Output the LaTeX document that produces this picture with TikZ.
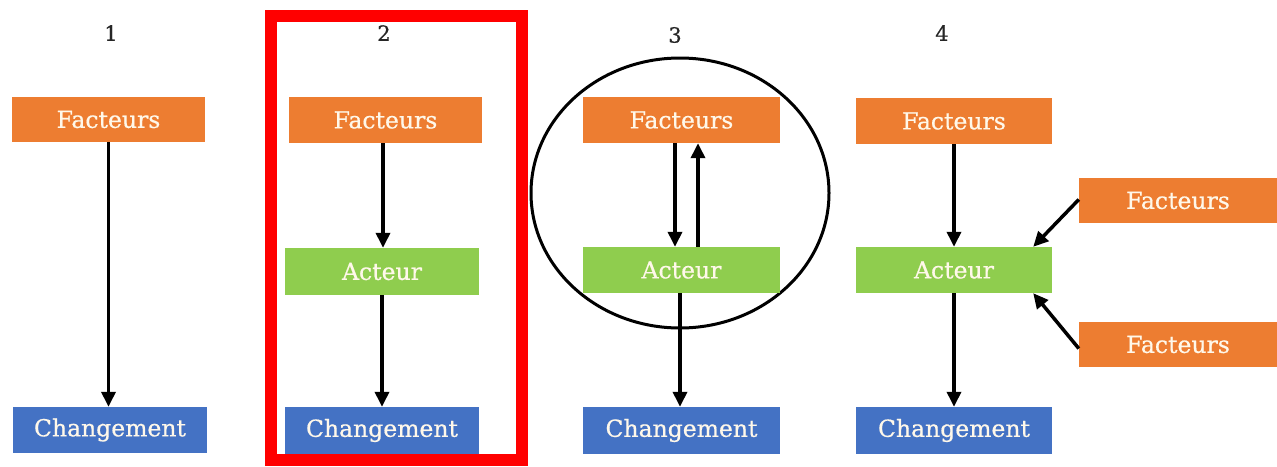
\documentclass[tikz,border=0pt]{standalone}
\usepackage{fontspec}
\setmainfont{DejaVu Serif}
\newfontfamily\boxfont[FakeBold=0.6]{DejaVu Serif}
\usetikzlibrary{arrows.meta}
\definecolor{fOrange}{HTML}{ED7D31}
\definecolor{fGreen}{HTML}{8FCD4E}
\definecolor{fBlue}{HTML}{4472C4}
\definecolor{fText}{HTML}{FFF8EA}
\begin{document}
\begin{tikzpicture}[x=1pt,y=-1pt,
  box/.style={inner sep=0pt, text=fText, font=\boxfont\fontsize{23.5}{26}\selectfont, anchor=center},
  fbox/.style={box, fill=fOrange},
  abox/.style={box, fill=fGreen},
  cbox/.style={box, fill=fBlue},
  arr/.style={line width=3.5pt, -{Triangle[width=14pt,length=15pt]}},
  num/.style={font=\boxfont\fontsize{21}{22}\selectfont, text=black!85}]
\useasboundingbox (0,0) rectangle (1277,466);
\fill[white] (0,0) rectangle (1277,466);
% numbers
\node[num] (n1) at (111,33) {1};
\node[num] (n2) at (384,33) {2};
\node[num] (n3) at (675,35) {3};
\node[num] (n4) at (942,33) {4};
% panel 2 frame
\draw[red, line width=12pt] (271,16) rectangle (522,460);
% panel 3 ellipse
\draw[line width=3pt] (680,193) ellipse [x radius=149, y radius=135];
% panel 1
\node[fbox, minimum width=193pt, minimum height=45pt] (F1) at (108.5,119.5) {Facteurs};
\node[cbox, minimum width=194pt, minimum height=46pt] (C1) at (110,430) {Changement};
% panel 2
\node[fbox, minimum width=193pt, minimum height=46pt] (F2) at (385.5,120) {Facteurs};
\node[abox, minimum width=194pt, minimum height=47pt] (A2) at (382,271.5) {Acteur};
\node[cbox, minimum width=194pt, minimum height=47pt] (C2) at (382,430.5) {Changement};
% panel 3
\node[fbox, minimum width=197pt, minimum height=46pt] (F3) at (681.5,120) {Facteurs};
\node[abox, minimum width=197pt, minimum height=46pt] (A3) at (681.5,270) {Acteur};
\node[cbox, minimum width=197pt, minimum height=47pt] (C3) at (681.5,430.5) {Changement};
% panel 4
\node[fbox, minimum width=196pt, minimum height=46pt] (F4) at (954,121) {Facteurs};
\node[abox, minimum width=196pt, minimum height=46pt] (A4) at (954,270) {Acteur};
\node[cbox, minimum width=196pt, minimum height=47pt] (C4) at (954,430.5) {Changement};
\node[fbox, minimum width=198pt, minimum height=45pt] (F5) at (1178,200.5) {Facteurs};
\node[fbox, minimum width=198pt, minimum height=45pt] (F6) at (1178,344.5) {Facteurs};
% arrows
\draw[arr] (F1.south) -- (F1.south |- C1.north);
\draw[arr] ([xshift=-2.5pt]F2.south) -- ([xshift=1pt]A2.north);
\draw[arr] (A2.south) -- (C2.north);
\draw[arr] ([xshift=-6.5pt]F3.south) -- ([xshift=-6.5pt]A3.north);
\draw[arr] ([xshift=16.5pt]A3.north) -- ([xshift=16.5pt]F3.south);
\draw[arr] ([xshift=-1.5pt]A3.south) -- ([xshift=-1.5pt]C3.north);
\draw[arr] (F4.south) -- (A4.north);
\draw[arr] (A4.south) -- (C4.north);
\draw[arr] ([yshift=1pt]F5.west) -- ([xshift=-19pt]A4.north east);
\draw[arr] ([yshift=-4pt]F6.west) -- ([xshift=-19pt]A4.south east);
\end{tikzpicture}
\end{document}
